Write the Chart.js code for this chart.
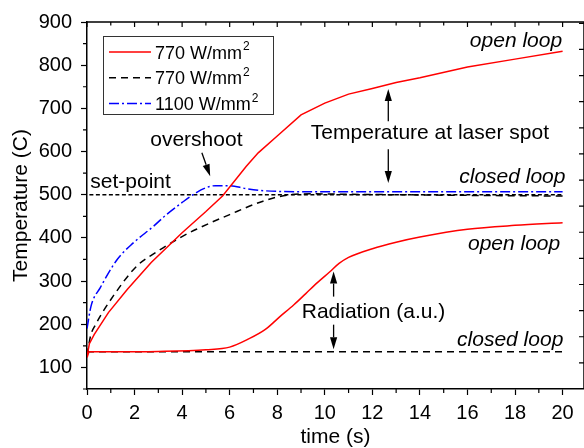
<!DOCTYPE html>
<html>
<head>
<meta charset="utf-8">
<script src="https://cdn.jsdelivr.net/npm/chart.js@4.4.0/dist/chart.umd.min.js"></script>
<style>
  html, body { margin: 0; padding: 0; background: #fff; overflow: hidden; }
</style>
</head>
<body>
<canvas id="temps" width="584" height="448"></canvas>
<script>
// temperature at the laser spot, 770 W/mm2, open loop
const openTempTime = [0, 0.1, 0.3, 0.9, 1.7, 2.7, 4, 5, 5.7, 6.7, 7.2, 8, 9, 10, 11, 12, 13, 14, 16, 18, 20];
const openTempVal  = [125, 155, 176, 227, 281, 343, 412, 461, 497, 566, 597, 636, 685, 712, 733, 746, 760, 771, 796, 814, 832];

// radiation signal, 770 W/mm2, open loop
const openRadTime = [0, 0.1, 1, 3, 5, 6, 6.8, 7.5, 8.1, 8.7, 9.2, 9.7, 10.2, 10.6, 11, 12, 13, 14, 16, 18, 20];
const openRadVal  = [123, 136, 136, 137, 141, 147, 166, 188, 217, 245, 271, 297, 321, 341, 355, 375, 390, 402, 420, 429, 435];

// temperature, 770 W/mm2, closed loop
const closedTempTime = [0, 0.15, 0.35, 1.1, 2.1, 3, 3.9, 4.6, 6, 7.4, 8.4, 9.5, 11, 13, 15, 17, 20];
const closedTempVal  = [128, 173, 198, 265, 335, 370, 400, 420, 454, 485, 499, 502, 501, 500, 499, 498, 497];

// radiation signal, closed loop
const closedRadTime = [0, 20];
const closedRadVal  = [136, 136];

// temperature, 1100 W/mm2, closed loop
const fastTempTime = [0, 0.17, 0.56, 1.27, 1.96, 2.8, 3.3, 4, 4.6, 5, 5.4, 6, 6.7, 7.5, 9, 12, 16, 20];
const fastTempVal  = [190, 242, 285, 350, 389, 427, 452, 482, 505, 516, 521, 521, 514, 509, 507, 507, 507, 507];

const setPointTime = [0.1, 20];
const setPointVal  = [500, 500];

const timeTicks = [0, 2, 4, 6, 8, 10, 12, 14, 16, 18, 20];
const tempTicks = [100, 200, 300, 400, 500, 600, 700, 800, 900];

const FONT = '"Liberation Sans", Arial, sans-serif';
const RED = '#ff0000', BLACK = '#000000', BLUE = '#0000ff';

const pairs = (ts, vs) => ts.map((t, i) => ({ x: t, y: vs[i] }));

function line(data, color, dash, legendText, smooth = true) {
  return {
    data, legendText,
    borderColor: color,
    borderWidth: 1.5,
    borderDash: dash,
    pointRadius: 0,
    fill: false,
    tension: 0,
    cubicInterpolationMode: smooth ? 'monotone' : 'default'
  };
}

// text labels and arrows, placed in time / temperature units
const notes = [
  { text: 'open loop', t: 19.98, v: 843, align: 'right', italic: true },
  { text: 'Temperature at laser spot', t: 14.42, v: 628, align: 'center' },
  { text: 'closed loop', t: 20.12, v: 527, align: 'right', italic: true },
  { text: 'overshoot', t: 2.66, v: 612, align: 'left' },
  { text: 'set-point', t: 0.14, v: 516, align: 'left' },
  { text: 'open loop', t: 19.9, v: 371, align: 'right', italic: true },
  { text: 'Radiation (a.u.)', t: 9.03, v: 214, align: 'left' },
  { text: 'closed loop', t: 20.03, v: 149, align: 'right', italic: true }
];
const arrows = [
  { t0: 12.67, v0: 670, t1: 12.67, v1: 745 },
  { t0: 12.67, v0: 605, t1: 12.67, v1: 527 },
  { t0: 4.83, v0: 597, t1: 5.18, v1: 543 },
  { t0: 10.37, v0: 264, t1: 10.37, v1: 322 },
  { t0: 10.37, v0: 199, t1: 10.37, v1: 142 }
];

const decorations = {
  id: 'decorations',
  afterDraw(chart) {
    const { ctx, chartArea: a, scales } = chart;
    const x = scales.x, y = scales.y, yr = scales.yr;
    ctx.save();
    ctx.strokeStyle = '#000';
    ctx.fillStyle = '#000';

    // top and right frame
    ctx.lineWidth = 1.5;
    ctx.beginPath();
    ctx.moveTo(a.left, a.top); ctx.lineTo(a.right, a.top);
    ctx.lineTo(a.right, a.bottom);
    ctx.stroke();

    // minor ticks on bottom / left, all ticks on top / right
    ctx.lineWidth = 1.2;
    ctx.beginPath();
    for (let t = 0; t <= 20; t++) {
      const px = x.getPixelForValue(t);
      const major = t % 2 === 0;
      if (!major) { ctx.moveTo(px, a.bottom); ctx.lineTo(px, a.bottom + 4); }
      ctx.moveTo(px, a.top); ctx.lineTo(px, a.top + (major ? 5 : 3.5));
    }
    for (let v = 50; v <= 900; v += 100) {
      const py = y.getPixelForValue(v);
      ctx.moveTo(a.left, py); ctx.lineTo(a.left - 4, py);
    }
    for (let r = 1; r <= 14; r++) {
      const py = yr.getPixelForValue(r);
      ctx.moveTo(a.right, py); ctx.lineTo(a.right - 5, py);
    }
    ctx.stroke();

    // annotations
    ctx.textBaseline = 'alphabetic';
    notes.forEach(n => {
      ctx.font = (n.italic ? 'italic ' : '') + '21px ' + FONT;
      ctx.textAlign = n.align;
      ctx.fillText(n.text, x.getPixelForValue(n.t), y.getPixelForValue(n.v));
    });

    ctx.lineWidth = 1.3;
    arrows.forEach(ar => {
      const x0 = x.getPixelForValue(ar.t0), y0 = y.getPixelForValue(ar.v0);
      const x1 = x.getPixelForValue(ar.t1), y1 = y.getPixelForValue(ar.v1);
      const ang = Math.atan2(y1 - y0, x1 - x0);
      const len = 12, half = 3.6;
      const bx = x1 - len * Math.cos(ang), by = y1 - len * Math.sin(ang);
      ctx.beginPath();
      ctx.moveTo(x0, y0); ctx.lineTo(bx, by);
      ctx.stroke();
      ctx.beginPath();
      ctx.moveTo(x1, y1);
      ctx.lineTo(bx + half * Math.sin(ang), by - half * Math.cos(ang));
      ctx.lineTo(bx - half * Math.sin(ang), by + half * Math.cos(ang));
      ctx.closePath();
      ctx.fill();
    });

    // legend box
    const lx = a.left + 16, ly = a.top + 14, lw = 170, lh = 78;
    ctx.fillStyle = '#fff';
    ctx.fillRect(lx, ly, lw, lh);
    ctx.strokeStyle = '#333';
    ctx.lineWidth = 1;
    ctx.strokeRect(lx + 0.5, ly + 0.5, lw, lh);
    let row = 0;
    chart.data.datasets.forEach(ds => {
      if (!ds.legendText) return;
      const cy = ly + 16 + row * 25.8;
      ctx.save();
      ctx.strokeStyle = ds.borderColor;
      ctx.lineWidth = ds.borderWidth;
      ctx.setLineDash(ds.borderDash || []);
      ctx.beginPath();
      ctx.moveTo(lx + 6, cy); ctx.lineTo(lx + 48, cy);
      ctx.stroke();
      ctx.restore();
      ctx.fillStyle = '#000';
      ctx.textAlign = 'left';
      ctx.font = '18px ' + FONT;
      const tx = lx + 52;
      ctx.fillText(ds.legendText, tx, cy + 6.6);
      const w = ctx.measureText(ds.legendText).width;
      ctx.font = '12px ' + FONT;
      ctx.fillText('2', tx + w + 1, cy - 2);
      row++;
    });
    ctx.restore();
  }
};

new Chart(document.getElementById('temps'), {
  type: 'line',
  data: {
    datasets: [
      line(pairs(openTempTime, openTempVal), RED, [], '770 W/mm', false),
      line(pairs(openRadTime, openRadVal), RED, []),
      line(pairs(closedTempTime, closedTempVal), BLACK, [7, 5], '770 W/mm'),
      line(pairs(closedRadTime, closedRadVal), BLACK, [7, 5]),
      line(pairs(fastTempTime, fastTempVal), BLUE, [10, 3, 2, 3], '1100 W/mm'),
      line(pairs(setPointTime, setPointVal), BLACK, [4, 2.5])
    ]
  },
  options: {
    responsive: false,
    animation: false,
    devicePixelRatio: 1,
    layout: { padding: { top: 22, right: 0, left: 0, bottom: 0 }, autoPadding: false },
    plugins: { legend: { display: false }, tooltip: { enabled: false } },
    scales: {
      x: {
        type: 'linear',
        min: 0, max: 20.9,
        afterBuildTicks: s => { s.ticks = timeTicks.map(v => ({ value: v })); },
        afterFit: s => { s.height = 59; },
        ticks: { includeBounds: false, color: '#000', font: { family: FONT, size: 20 }, padding: 6, maxRotation: 0 },
        grid: { drawOnChartArea: false, tickLength: 6, tickWidth: 1.2, tickColor: '#000' },
        border: { display: true, color: '#000', width: 1.5 },
        title: { display: true, text: 'time (s)', color: '#000', font: { family: FONT, size: 21, lineHeight: 1 }, padding: { bottom: 0, top: 0 } }
      },
      y: {
        type: 'linear',
        min: 50, max: 900,
        afterBuildTicks: s => { s.ticks = tempTicks.map(v => ({ value: v })); },
        afterFit: s => { s.width = 87; },
        ticks: { includeBounds: false, color: '#000', font: { family: FONT, size: 20 }, padding: 9 },
        grid: { drawOnChartArea: false, tickLength: 6, tickWidth: 1.2, tickColor: '#000' },
        border: { display: true, color: '#000', width: 1.5 },
        title: { display: true, text: 'Temperature (C)', color: '#000', font: { family: FONT, size: 21, lineHeight: 1 }, padding: { top: 11, bottom: 0 } }
      },
      yr: {
        type: 'linear', position: 'right', display: false,
        min: 0, max: 14.05
      }
    }
  },
  plugins: [decorations]
});
</script>
</body>
</html>
